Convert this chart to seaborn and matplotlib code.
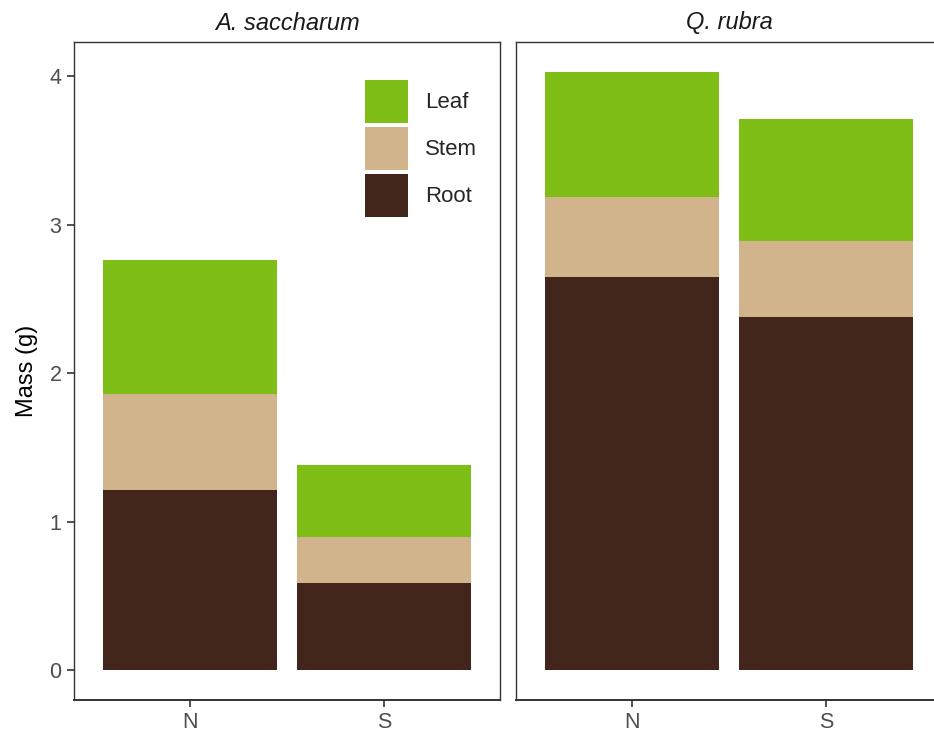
import matplotlib
matplotlib.use("Agg")
import matplotlib.pyplot as plt
import seaborn as sns
import pandas as pd
from matplotlib.patches import Patch

# Biomass allocation by species and site
species = ["A. saccharum", "A. saccharum", "Q. rubra", "Q. rubra"]
site = ["N", "S", "N", "S"]
root = [1.21, 0.59, 2.65, 2.38]
stem = [0.65, 0.31, 0.54, 0.51]
leaf = [0.90, 0.48, 0.84, 0.82]

parts = ["Leaf", "Stem", "Root"]
colors = {"Leaf": "#7FBE16", "Stem": "#D2B48C", "Root": "#42261C"}

df = pd.DataFrame({"species": species, "site": site,
                   "Root": root, "Stem": stem, "Leaf": leaf})
# cumulative heights so that overlapping bars read as a stack
df["cum_Root"] = df["Root"]
df["cum_Stem"] = df["Root"] + df["Stem"]
df["cum_Leaf"] = df["Root"] + df["Stem"] + df["Leaf"]

sns.set_theme(style="white")
plt.rcParams["font.family"] = ["Liberation Sans", "DejaVu Sans"]

W, H = 934, 737
fig = plt.figure(figsize=(W / 100, H / 100), dpi=100)

panel_w, panel_h = 426, 658
bottom_px = H - 700
lefts = [74, 516]

ymax = df["cum_Leaf"].max()
pad = ymax * 0.05

axes = []
for i, sp in enumerate(["A. saccharum", "Q. rubra"]):
    ax = fig.add_axes([lefts[i] / W, bottom_px / H, panel_w / W, panel_h / H])
    sub = df[df["species"] == sp]
    for part in parts:
        sns.barplot(data=sub, x="site", y=f"cum_{part}", order=["N", "S"],
                    color=colors[part], width=0.9, ax=ax,
                    saturation=1, errorbar=None, linewidth=0)
    ax.set_xlim(-0.6, 1.6)
    ax.set_ylim(-pad, ymax + pad)
    ax.set_yticks([0, 1, 2, 3, 4])
    ax.set_xlabel("")
    ax.set_ylabel("")
    ax.set_title(sp, fontstyle="italic", fontsize=17, color="#1A1A1A", pad=9)
    for s in ax.spines.values():
        s.set_visible(True)
        s.set_color("#333333")
        s.set_linewidth(1.0)
    ax.spines["bottom"].set_linewidth(1.4)
    ax.tick_params(axis="both", colors="#333333", labelcolor="#4D4D4D",
                   labelsize=15.5, length=5, width=1.2, direction="out",
                   pad=4, bottom=True, left=(i == 0))
    if i == 1:
        ax.set_yticklabels([])
    axes.append(ax)

axes[0].set_ylabel("Mass (g)", fontsize=17, color="black", labelpad=8)

# legend placed inside the left panel, keys 43 px square
fs = 16
em = fs * 100 / 72
key_pt = 43 * 72 / 100
bpad = 0.4 * em
anchor_x = (365 - bpad - lefts[0]) / panel_w
anchor_y = (700 - (80 - bpad)) / panel_h
# legend box height = fs*h - 0.35*fs*(h - 0.7); solve for the key height
hh = (key_pt / fs - 0.245) / 0.65
handles = [Patch(facecolor=colors[p], edgecolor="none", linewidth=0, label=p)
           for p in parts]
axes[0].legend(handles=handles, loc="upper left",
               bbox_to_anchor=(anchor_x, anchor_y), borderaxespad=0,
               borderpad=0.4, frameon=False, fontsize=fs,
               handlelength=43 / em, handleheight=hh,
               handletextpad=17 / em, labelspacing=4 / em)

fig.savefig("out.png", dpi=100)
